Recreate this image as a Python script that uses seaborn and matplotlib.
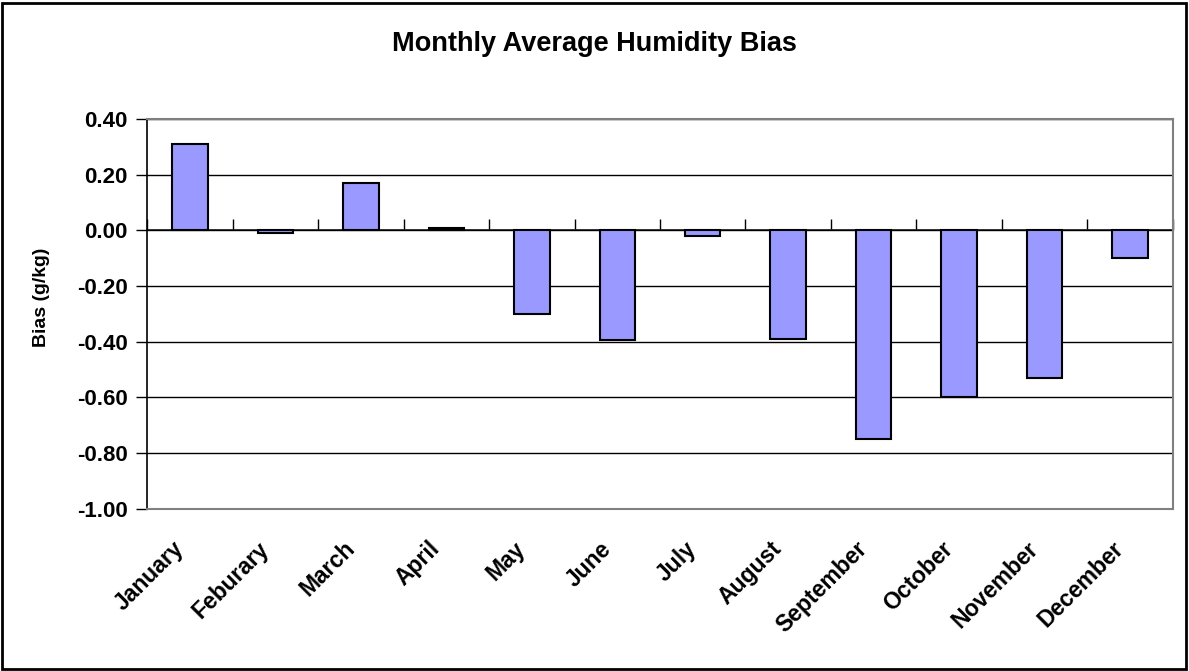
import numpy as np
import pandas as pd
import seaborn as sns
import matplotlib
matplotlib.use("Agg")
import matplotlib.pyplot as plt
from matplotlib.patches import Rectangle
from matplotlib.transforms import ScaledTranslation

months = ["January", "Feburary", "March", "April", "May", "June", "July",
          "August", "September", "October", "November", "December"]
bias = [0.31, -0.01, 0.17, 0.01, -0.30, -0.395, -0.02, -0.39, -0.75, -0.60, -0.53, -0.10]
y_ticks = [0.40, 0.20, 0.00, -0.20, -0.40, -0.60, -0.80, -1.00]

sns.set_theme(style="white")
plt.rcParams['font.family'] = ['Liberation Sans', 'DejaVu Sans']
plt.rcParams['font.weight'] = 'bold'
plt.rcParams['text.color'] = 'black'
plt.rcParams['axes.labelcolor'] = 'black'
plt.rcParams['xtick.color'] = 'black'
plt.rcParams['ytick.color'] = 'black'

df = pd.DataFrame({"Month": months, "Bias": bias})

fig = plt.figure(figsize=(11.89, 6.71), dpi=100)
ax = fig.add_axes([147.3/1189, 1-508.7/671, (1172.7-147.3)/1189, (508.7-119)/671])

sns.barplot(data=df, x="Month", y="Bias", color="#9999FF", saturation=1,
            edgecolor="black", linewidth=1.5, width=0.415, ax=ax, zorder=3)

ax.set_ylim(-1.0, 0.4)
ax.set_xlim(-0.5, len(months) - 0.5)
ax.set_yticks(y_ticks)
ax.set_yticklabels([f"{v:.2f}" for v in y_ticks], fontsize=16, fontweight='bold')
ax.yaxis.grid(True, color="black", linewidth=1.0, zorder=0)
ax.set_axisbelow(True)
ax.tick_params(axis='y', direction='out', length=8, width=1, color='black',
               labelcolor='black', pad=6, left=True)

# month labels along the bottom
ax.set_xticks(range(len(months)))
ax.set_xticklabels(months, rotation=45, ha='right', rotation_mode='anchor',
                   fontsize=16.5, fontweight='bold')
ax.tick_params(axis='x', length=0, pad=19, labelcolor='black')
ax.set_xlabel("")
shift = ScaledTranslation(-18/100, -2/100, fig.dpi_scale_trans)
for lbl in ax.get_xticklabels():
    lbl.set_transform(lbl.get_transform() + shift)

# axis line at zero with ticks between categories
zero_loc = (0 - (-1.0)) / (0.4 - (-1.0))
sec = ax.secondary_xaxis(zero_loc)
sec.set_xticks(np.arange(len(months) + 1) - 0.5)
sec.set_xticklabels([])
sec.tick_params(direction='out', length=8, width=1, color='black')
sec.spines['bottom'].set_color('black')
sec.spines['bottom'].set_linewidth(1.5)

for s in ['top', 'right', 'bottom']:
    ax.spines[s].set_color('#808080')
    ax.spines[s].set_linewidth(1.5)
    ax.spines[s].set_visible(True)
ax.spines['left'].set_color('black')
ax.spines['left'].set_linewidth(1.2)

ax.set_ylabel("Bias (g/kg)", fontsize=14, fontweight='bold', color='black')
ax.yaxis.label.set_va('center')
ax.yaxis.set_label_coords((41.7-147.3)/(1172.7-147.3), (508.7-297.5)/(508.7-119))

fig.text(0.5, 1-50.7/671, "Monthly Average Humidity Bias", ha='center', va='baseline',
         fontsize=19.5, fontweight='bold', color='black')

fig.patches.append(Rectangle((2/1189, 2/671), 1184/1189, 666/671, transform=fig.transFigure,
                             fill=False, edgecolor='black', linewidth=2))

fig.savefig("out.png", dpi=100, facecolor='white')
